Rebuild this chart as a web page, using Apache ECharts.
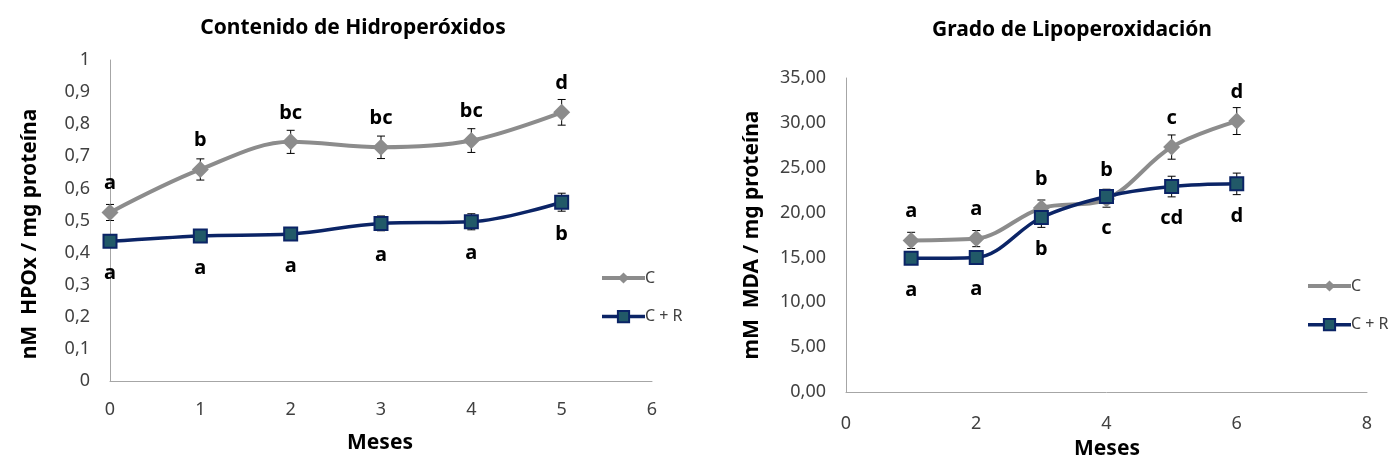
<!DOCTYPE html>
<html>
<head>
<meta charset="utf-8">
<script src="https://cdn.jsdelivr.net/npm/echarts@6/dist/echarts.min.js"></script>
<style>
html,body{margin:0;padding:0;background:#fff;}
#chart{width:1394px;height:466px;}
</style>
</head>
<body>
<div id="chart"></div>
<script>
// ---- Data ----
var months1 = [0, 1, 2, 3, 4, 5];
var hpoxC = [0.525, 0.659, 0.745, 0.728, 0.749, 0.837];
var hpoxCErr = [0.025, 0.033, 0.036, 0.035, 0.037, 0.040];
var hpoxCR = [0.435, 0.452, 0.458, 0.491, 0.496, 0.557];
var hpoxCRErr = [0.012, 0.018, 0.018, 0.023, 0.025, 0.028];
var hpoxCLetters = ['a', 'b', 'bc', 'bc', 'bc', 'd'];
var hpoxCRLetters = ['a', 'a', 'a', 'a', 'a', 'b'];

var months2 = [1, 2, 3, 4, 5, 6];
var mdaC = [16.9, 17.1, 20.5, 21.5, 27.3, 30.2];
var mdaCErr = [0.9, 0.9, 0.9, 0.9, 1.35, 1.5];
var mdaCR = [14.9, 15.0, 19.45, 21.8, 22.9, 23.2];
var mdaCRErr = [0.6, 0.6, 1.1, 0.8, 1.15, 1.2];
var mdaCLetters = ['a', 'a', 'b', 'b', 'c', 'd'];
var mdaCRLetters = ['a', 'a', 'b', 'c', 'cd', 'd'];

var seriesNames = ['C', 'C + R'];
var titles = ['Contenido de Hidroperóxidos', 'Grado de Lipoperoxidación'];
var yNames = ['nM  HPOx / mg proteína', 'mM  MDA / mg proteína'];
var xName = 'Meses';

// ---- Styles ----
var FONT = 'Noto Sans';
var GRAY = '#8c8c8c';
var NAVY = '#0b2466';
var TEAL = '#215968';
var AXIS = '#a6a6a6';
var TICK = '#404040';

function pairs(xs, ys) { return xs.map(function (x, i) { return [x, ys[i]]; }); }
function errData(xs, ys, es) { return xs.map(function (x, i) { return [x, ys[i], es[i]]; }); }

function errSeries(idx, data) {
  return {
    type: 'custom', xAxisIndex: idx, yAxisIndex: idx, z: 1, silent: true,
    data: data,
    renderItem: function (params, api) {
      var x = api.value(0), y = api.value(1), e = api.value(2);
      var t = api.coord([x, y + e]), b = api.coord([x, y - e]);
      var s = { stroke: '#000', lineWidth: 1 };
      return { type: 'group', children: [
        { type: 'line', shape: { x1: t[0], y1: t[1], x2: b[0], y2: b[1] }, style: s },
        { type: 'line', shape: { x1: t[0] - 4, y1: t[1], x2: t[0] + 4, y2: t[1] }, style: s },
        { type: 'line', shape: { x1: b[0] - 4, y1: b[1], x2: b[0] + 4, y2: b[1] }, style: s }
      ] };
    }
  };
}

function lineC(idx, data, letters) {
  return {
    name: seriesNames[0], type: 'line', xAxisIndex: idx, yAxisIndex: idx, z: 3,
    data: data, smooth: 0.35, symbol: 'diamond', symbolSize: 17,
    lineStyle: { color: GRAY, width: 4 },
    itemStyle: { color: GRAY },
    label: {
      show: true, position: 'inside', offset: [0, -29],
      formatter: function (p) { return letters[p.dataIndex]; },
      color: '#000', fontFamily: FONT, fontWeight: 'bold', fontSize: 20
    }
  };
}
function lineCR(idx, data, letters) {
  return {
    name: seriesNames[1], type: 'line', xAxisIndex: idx, yAxisIndex: idx, z: 4,
    data: data, smooth: 0.35, symbol: 'rect', symbolSize: 13,
    lineStyle: { color: NAVY, width: 3.5 },
    itemStyle: { color: TEAL, borderColor: NAVY, borderWidth: 2 },
    label: {
      show: true, position: 'inside', offset: [0, 32],
      formatter: function (p) { return letters[p.dataIndex]; },
      color: '#000', fontFamily: FONT, fontWeight: 'bold', fontSize: 20
    }
  };
}

var axisCommon = {
  axisLine: { show: true, lineStyle: { color: AXIS, width: 1 } },
  axisTick: { show: false },
  splitLine: { show: false },
  axisLabel: { color: TICK, fontFamily: FONT, fontSize: 18, margin: 20 }
};

function textEl(x, y, text, size, rot) {
  return {
    type: 'text', x: x, y: y, rotation: rot || 0,
    style: { text: text, fill: '#000', font: 'bold ' + size + 'px "' + FONT + '"', align: 'center', verticalAlign: 'middle' }
  };
}

function legendData() {
  return [
    { name: seriesNames[0], lineStyle: { width: 4 }, itemStyle: { color: GRAY } },
    { name: seriesNames[1], lineStyle: { width: 3.5 } }
  ];
}

var option = {
  backgroundColor: '#fff',
  animation: false,
  grid: [
    { left: 110, top: 60, width: 542, height: 321 },
    { left: 846, top: 78, width: 521, height: 314 }
  ],
  xAxis: [
    Object.assign({}, axisCommon, { type: 'value', gridIndex: 0, min: 0, max: 6, interval: 1 }),
    Object.assign({}, axisCommon, { type: 'value', gridIndex: 1, min: 0, max: 8, interval: 2,
      axisLabel: Object.assign({}, axisCommon.axisLabel, { margin: 23 }) })
  ],
  yAxis: [
    Object.assign({}, axisCommon, { type: 'value', gridIndex: 0, min: 0, max: 1, interval: 0.1,
      axisLabel: Object.assign({}, axisCommon.axisLabel, { formatter: function (v) { return String(Math.round(v * 10) / 10).replace('.', ','); } }) }),
    Object.assign({}, axisCommon, { type: 'value', gridIndex: 1, min: 0, max: 35, interval: 5,
      axisLabel: Object.assign({}, axisCommon.axisLabel, { formatter: function (v) { return v.toFixed(2).replace('.', ','); } }) })
  ],
  legend: [
    { data: legendData(), orient: 'vertical', left: 600, top: 270, padding: 0, itemWidth: 43, itemHeight: 14, itemGap: 22.6,
      textStyle: { color: TICK, fontFamily: FONT, fontSize: 16, padding: [0, 0, 0, -5] }, selectedMode: false },
    { data: legendData(), orient: 'vertical', left: 1306, top: 278, padding: 0, itemWidth: 43, itemHeight: 14, itemGap: 22.7,
      textStyle: { color: TICK, fontFamily: FONT, fontSize: 16, padding: [0, 0, 0, -5] }, selectedMode: false }
  ],
  graphic: [
    textEl(353, 28, titles[0], 21),
    textEl(1072, 30, titles[1], 21),
    textEl(30, 234, yNames[0], 21, Math.PI / 2),
    textEl(752, 235, yNames[1], 21, Math.PI / 2),
    textEl(380, 443, xName, 21),
    textEl(1107, 449, xName, 21)
  ],
  series: [
    errSeries(0, errData(months1, hpoxC, hpoxCErr)),
    errSeries(0, errData(months1, hpoxCR, hpoxCRErr)),
    lineC(0, pairs(months1, hpoxC), hpoxCLetters),
    lineCR(0, pairs(months1, hpoxCR), hpoxCRLetters),
    errSeries(1, errData(months2, mdaC, mdaCErr)),
    errSeries(1, errData(months2, mdaCR, mdaCRErr)),
    lineC(1, pairs(months2, mdaC), mdaCLetters),
    lineCR(1, pairs(months2, mdaCR), mdaCRLetters)
  ]
};

var chart = echarts.init(document.getElementById('chart'), null, { renderer: 'canvas' });
chart.setOption(option);
</script>
</body>
</html>
